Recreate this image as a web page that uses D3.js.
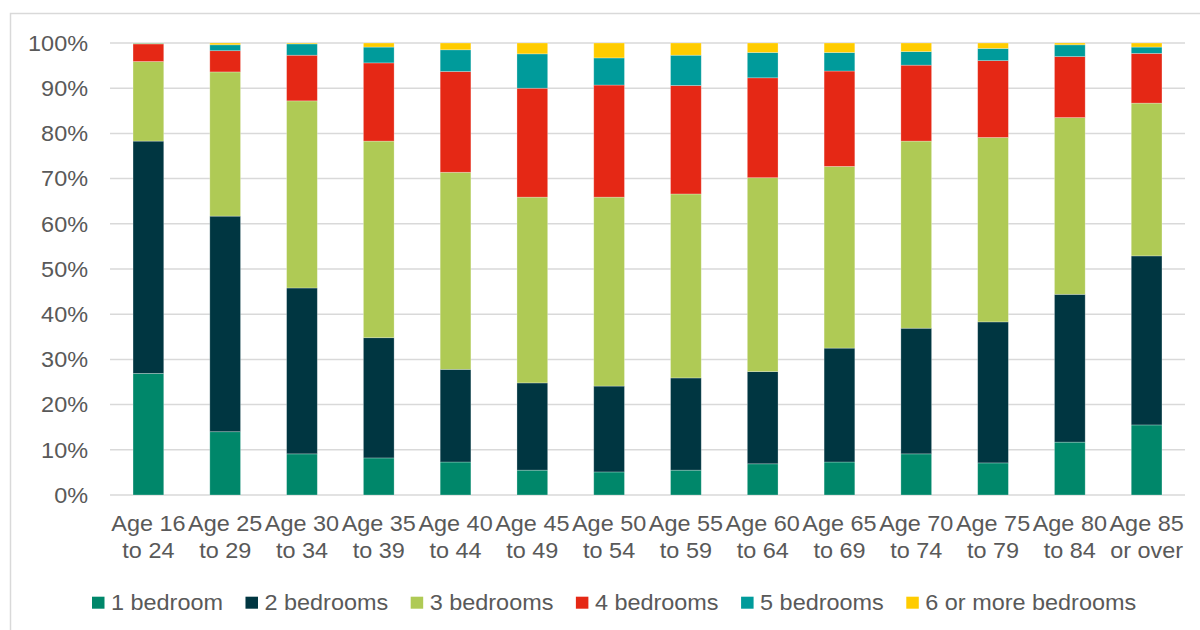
<!DOCTYPE html>
<html>
<head>
<meta charset="utf-8">
<script src="https://cdn.jsdelivr.net/npm/d3@7"></script>
<style>
  body { margin: 0; background: #fff; }
  svg { font-family: "Liberation Sans", Arial, sans-serif; }
</style>
</head>
<body>
<div id="vis-container"></div>
<script>
// Data (percent of households)
const ageGroups = ["Age 16 to 24", "Age 25 to 29", "Age 30 to 34", "Age 35 to 39", "Age 40 to 44",
  "Age 45 to 49", "Age 50 to 54", "Age 55 to 59", "Age 60 to 64", "Age 65 to 69",
  "Age 70 to 74", "Age 75 to 79", "Age 80 to 84", "Age 85 or over"];
const seriesNames = ["1 bedroom", "2 bedrooms", "3 bedrooms", "4 bedrooms", "5 bedrooms", "6 or more bedrooms"];

const bed1 = [26.9, 14.0, 9.1, 8.2, 7.3, 5.5, 5.1, 5.5, 6.9, 7.3, 9.1, 7.1, 11.7, 15.5];
const bed2 = [51.4, 47.7, 36.7, 26.6, 20.5, 19.3, 19.0, 20.4, 20.4, 25.2, 27.8, 31.2, 32.7, 37.4];
const bed3 = [17.6, 31.9, 41.4, 43.5, 43.6, 41.1, 41.8, 40.7, 42.9, 40.2, 41.4, 40.8, 39.1, 33.8];
const bed4 = [3.9, 4.7, 10.1, 17.3, 22.3, 24.1, 24.8, 24.0, 22.1, 21.1, 16.8, 17.0, 13.5, 11.0];
const bed5 = [0.15, 1.3, 2.5, 3.5, 4.8, 7.6, 6.0, 6.7, 5.6, 4.1, 3.0, 2.7, 2.6, 1.4];
const bed6 = [0.05, 0.4, 0.2, 0.9, 1.5, 2.4, 3.3, 2.7, 2.1, 2.1, 1.9, 1.2, 0.4, 0.9];

const yTicks = [0, 10, 20, 30, 40, 50, 60, 70, 80, 90, 100];
const colors = ["#00876a", "#003641", "#afca55", "#e52815", "#009b9b", "#ffcc00"];

const width = 1200, height = 630;
const margin = { top: 43, right: 15, bottom: 135, left: 110 };
const fontSize = 22;
const stretch = 1.065;   // text in the reference is slightly wide
const textColor = "#595959";

const svg = d3.select("#vis-container")
  .append("svg")
  .attr("width", width)
  .attr("height", height);

// outer chart frame
svg.append("rect")
  .attr("x", 10.5).attr("y", 13.5)
  .attr("width", 1220).attr("height", 640)
  .attr("fill", "none")
  .attr("stroke", "#d9d9d9")
  .attr("stroke-width", 1.5);

// build rows for the stack
const allSeries = [bed1, bed2, bed3, bed4, bed5, bed6];
const rows = ageGroups.map((g, i) => {
  const r = { group: g };
  seriesNames.forEach((s, j) => { r[s] = allSeries[j][i]; });
  return r;
});
const stacked = d3.stack().keys(seriesNames)(rows);

const x = d3.scaleBand()
  .domain(ageGroups)
  .range([margin.left, width - margin.right])
  .paddingInner(0.6)
  .paddingOuter(0.3);

const y = d3.scaleLinear()
  .domain([0, 100])
  .range([height - margin.bottom, margin.top]);

// gridlines
svg.append("g")
  .selectAll("line")
  .data(yTicks)
  .enter()
  .append("line")
  .attr("x1", margin.left)
  .attr("x2", width - margin.right)
  .attr("y1", d => y(d))
  .attr("y2", d => y(d))
  .attr("stroke", "#d9d9d9")
  .attr("stroke-width", 1.5);

// y axis labels
svg.append("g")
  .selectAll("g")
  .data(yTicks)
  .enter()
  .append("g")
  .attr("transform", d => `translate(${margin.left - 22},${y(d)}) scale(${stretch},1)`)
  .append("text")
  .attr("text-anchor", "end")
  .attr("dy", "0.35em")
  .attr("font-size", fontSize)
  .attr("fill", textColor)
  .text(d => d + "%");

// bars
svg.append("g")
  .selectAll("g")
  .data(stacked)
  .enter()
  .append("g")
  .attr("fill", (d, i) => colors[i])
  .selectAll("rect")
  .data(d => d)
  .enter()
  .append("rect")
  .attr("x", d => x(d.data.group))
  .attr("y", d => y(d[1]))
  .attr("width", x.bandwidth())
  .attr("height", d => y(d[0]) - y(d[1]))
  .attr("stroke", "#ffffff")
  .attr("stroke-opacity", 0.35)
  .attr("stroke-width", 0.75);

// x labels, two lines each
svg.append("g")
  .selectAll("g")
  .data(ageGroups)
  .enter()
  .append("g")
  .attr("transform", d => `translate(${x(d) + x.bandwidth() / 2},0) scale(${stretch},1)`)
  .each(function(d) {
    const parts = d.match(/^(Age \d+) (.*)$/);
    const t = d3.select(this).append("text")
      .attr("text-anchor", "middle")
      .attr("font-size", fontSize)
      .attr("fill", textColor);
    t.append("tspan").attr("x", 0).attr("y", 531.5).text(parts[1]);
    t.append("tspan").attr("x", 0).attr("y", 558.3).text(parts[2]);
  });

// legend
const legend = svg.append("g");
let lx = 92;
seriesNames.forEach((s, i) => {
  legend.append("rect")
    .attr("x", lx).attr("y", 596.7)
    .attr("width", 12.5).attr("height", 12)
    .attr("fill", colors[i]);
  const t = legend.append("g")
    .attr("transform", `translate(${lx + 19},610) scale(${stretch},1)`)
    .append("text")
    .attr("font-size", fontSize)
    .attr("fill", textColor)
    .text(s);
  lx += 19 + t.node().getComputedTextLength() * stretch + 22.5;
});
</script>
</body>
</html>
